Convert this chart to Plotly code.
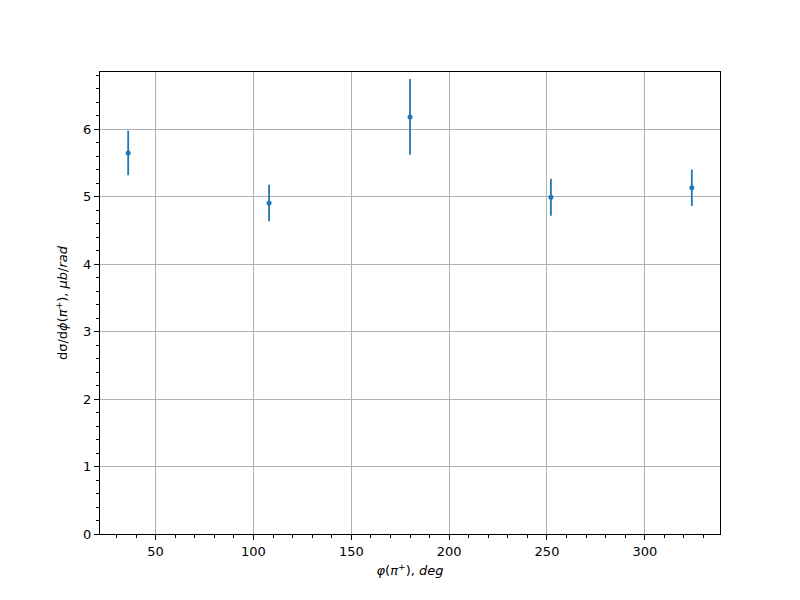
import plotly.graph_objects as go

phi = [36, 108, 180, 252, 324]
xsec = [5.645, 4.905, 6.18, 4.99, 5.13]
err = [0.33, 0.27, 0.56, 0.275, 0.27]

fig = go.Figure()
fig.add_trace(go.Scatter(
    x=phi, y=xsec, mode="markers",
    marker=dict(color="#1f77b4", size=5),
    error_y=dict(type="data", array=err, visible=True, color="#1f77b4", thickness=1.8, width=0),
    showlegend=False,
))

font = dict(family="DejaVu Sans", size=13, color="black")
axis_common = dict(
    showline=True, linecolor="black", linewidth=1, mirror=True,
    ticks="outside", ticklen=5, tickwidth=1, tickcolor="black",
    showgrid=True, gridcolor="#b0b0b0", gridwidth=1, zeroline=False,
    tickfont=font,
)
fig.update_layout(
    width=800, height=600,
    margin=dict(l=92, r=88, t=64, b=74),
    paper_bgcolor="white", plot_bgcolor="white",
    font=font,
    xaxis=dict(range=[21.6, 338.4], tickvals=[50, 100, 150, 200, 250, 300],
               minor=dict(dtick=10, tick0=0, ticks="outside", ticklen=3, tickcolor="black", showgrid=False),
               title=dict(text="<i>φ</i>(<i>π</i><sup>+</sup>), <i>deg</i>", font=font, standoff=8),
               **axis_common),
    yaxis=dict(range=[0, 6.845], tickvals=[0, 1, 2, 3, 4, 5, 6],
               minor=dict(dtick=0.2, tick0=0, ticks="outside", ticklen=3, tickcolor="black", showgrid=False),
               title=dict(text="dσ/d<i>ϕ</i>(<i>π</i><sup>+</sup>), <i>μb</i>/<i>rad</i>", font=font, standoff=12),
               **axis_common),
)
fig.write_html("out.html")
